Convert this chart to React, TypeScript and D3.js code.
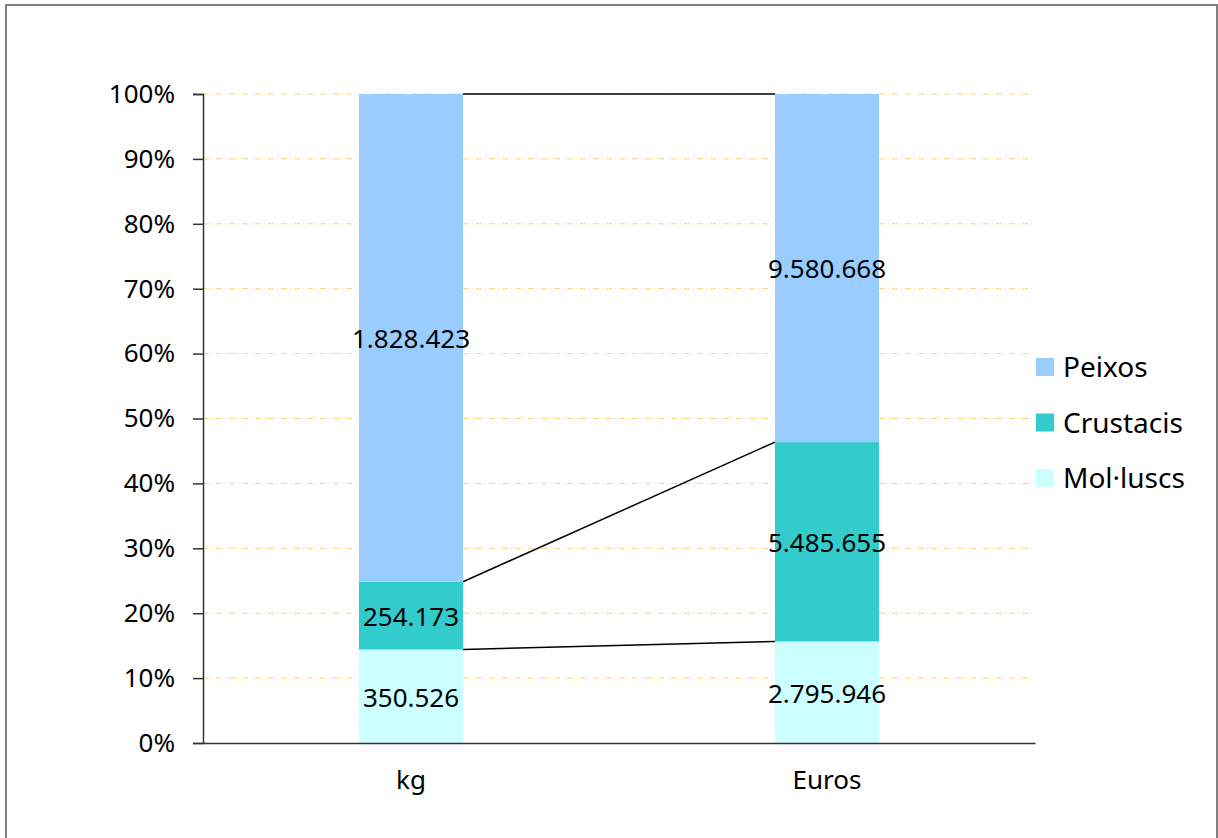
import * as React from 'react';
import { useEffect, useRef } from 'react';
import * as d3 from 'd3';

// chart data
const categories = ['kg', 'Euros'];
const seriesNames = ['Mol·luscs', 'Crustacis', 'Peixos'];
const molluscs = [350526, 2795946];
const crustacis = [254173, 5485655];
const peixos = [1828423, 9580668];
const yTicks = [0, 10, 20, 30, 40, 50, 60, 70, 80, 90, 100];

const colors: Record<string, string> = {
  'Peixos': '#99CCFF',
  'Crustacis': '#33CCCC',
  'Mol·luscs': '#CCFFFF',
};

const W = 1218;
const H = 838;
const FONT = '"Noto Sans", "Open Sans", sans-serif';

// dots as thousand separators
const fmt = (v: number) => d3.format(',')(v).replace(/,/g, '.');

export default function App() {
  const ref = useRef<SVGSVGElement>(null);

  useEffect(() => {
    const svg = d3.select(ref.current);
    svg.selectAll('*').remove();

    const plot = { left: 203, right: 1035, top: 94, bottom: 743 };

    // frame
    svg.append('rect')
      .attr('x', 6).attr('y', 5)
      .attr('width', 1211).attr('height', 860)
      .attr('fill', 'white')
      .attr('stroke', '#808080').attr('stroke-width', 2);

    const x = d3.scaleBand<string>()
      .domain(categories)
      .range([plot.left, plot.right])
      .paddingInner(0.75)
      .paddingOuter(0.375);

    const y = d3.scaleLinear().domain([0, 100]).range([plot.bottom, plot.top]);

    // gridlines
    svg.append('g').selectAll('line')
      .data(yTicks.filter((t) => t > 0))
      .enter().append('line')
      .attr('x1', plot.left).attr('x2', plot.right)
      .attr('y1', (d) => y(d)).attr('y2', (d) => y(d))
      .attr('stroke', '#F5D57A')
      .attr('stroke-width', 1)
      .attr('stroke-dasharray', '6,3,1,3');

    // stack to percentages
    const rows = categories.map((c, i) => {
      const total = molluscs[i] + crustacis[i] + peixos[i];
      return {
        cat: c,
        'Mol·luscs': (molluscs[i] / total) * 100,
        'Crustacis': (crustacis[i] / total) * 100,
        'Peixos': (peixos[i] / total) * 100,
        raw: { 'Mol·luscs': molluscs[i], 'Crustacis': crustacis[i], 'Peixos': peixos[i] } as Record<string, number>,
      };
    });

    const stacked = d3.stack<any>().keys(seriesNames)(rows);

    // series lines between bars
    const bw = x.bandwidth();
    stacked.forEach((layer) => {
      svg.append('line')
        .attr('x1', x(categories[0])! + bw)
        .attr('x2', x(categories[1])!)
        .attr('y1', y(layer[0][1]))
        .attr('y2', y(layer[1][1]))
        .attr('stroke', '#000')
        .attr('stroke-width', 1.5);
    });

    stacked.forEach((layer) => {
      const g = svg.append('g');
      g.selectAll('rect')
        .data(layer)
        .enter().append('rect')
        .attr('x', (d) => x(d.data.cat)!)
        .attr('width', bw)
        .attr('y', (d) => y(d[1]))
        .attr('height', (d) => y(d[0]) - y(d[1]))
        .attr('fill', colors[layer.key]);
      g.selectAll('text')
        .data(layer)
        .enter().append('text')
        .attr('x', (d) => x(d.data.cat)! + bw / 2)
        .attr('y', (d) => (y(d[0]) + y(d[1])) / 2)
        .attr('dy', '0.4em')
        .attr('text-anchor', 'middle')
        .attr('font-family', FONT)
        .attr('font-size', 26)
        .attr('fill', '#000')
        .text((d) => fmt(d.data.raw[layer.key]));
    });

    // y axis
    const ya = svg.append('g')
      .attr('transform', `translate(${plot.left},0)`)
      .call(d3.axisLeft(y).tickValues(yTicks).tickSize(10).tickPadding(18).tickFormat((d) => `${d}%`));
    ya.select('.domain').attr('stroke', '#333').attr('stroke-width', 1.5);
    ya.selectAll('.tick line').attr('stroke', '#333').attr('stroke-width', 1.5);
    ya.selectAll('.tick text').attr('font-family', FONT).attr('font-size', 26).attr('fill', '#000');

    // x axis
    const xa = svg.append('g')
      .attr('transform', `translate(0,${plot.bottom})`)
      .call(d3.axisBottom(x).tickSize(0).tickPadding(28));
    xa.select('.domain').attr('stroke', '#333').attr('stroke-width', 1.5);
    xa.selectAll('.tick text').attr('font-family', FONT).attr('font-size', 26).attr('fill', '#000');

    // legend
    const legendItems = ['Peixos', 'Crustacis', 'Mol·luscs'];
    const lg = svg.append('g').attr('transform', 'translate(1036,367)');
    legendItems.forEach((name, i) => {
      const row = lg.append('g').attr('transform', `translate(0,${i * 55.5})`);
      row.append('rect').attr('x', 0).attr('y', -9).attr('width', 18).attr('height', 18)
        .attr('fill', colors[name]);
      row.append('text').attr('x', 27).attr('y', 0).attr('dy', '0.36em')
        .attr('font-family', FONT).attr('font-size', 28).attr('fill', '#000')
        .text(name);
    });
  }, []);

  return (
    <svg
      ref={ref}
      width={W}
      height={H}
      style={{ position: 'absolute', left: 0, top: 0, background: 'white' }}
    />
  );
}
